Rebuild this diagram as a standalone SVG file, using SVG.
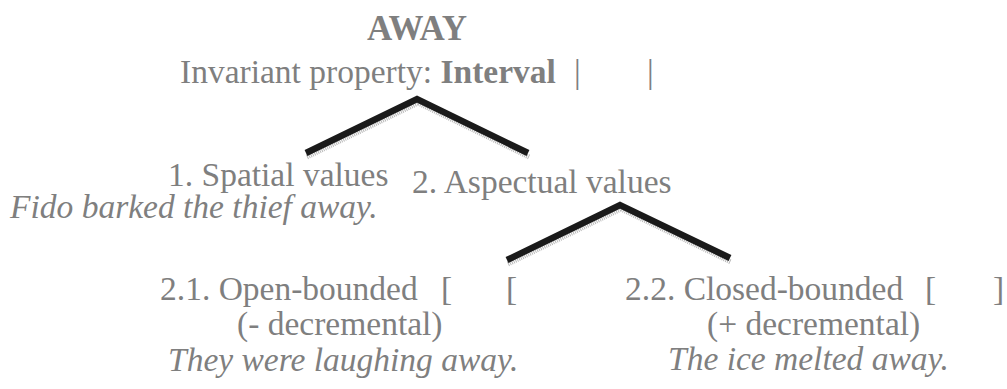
<svg xmlns="http://www.w3.org/2000/svg" width="1007" height="389" viewBox="0 0 1007 389">
<style>
text{font-family:"Liberation Serif","Times New Roman",serif;fill:#7f7f7f;font-size:33.5px}
.b{font-weight:bold}
.i{font-style:italic}
.t{font-size:35px;font-weight:bold}
.edge{fill:none;stroke:#1a1a1a;stroke-width:6.5;stroke-linejoin:miter}
.shadow{fill:none;stroke:#b8b8b8;stroke-width:5;stroke-dasharray:1 1}
</style>
<rect width="1007" height="389" fill="#fff"/>
<g id="root">
<text class="t" x="417" y="40" text-anchor="middle">AWAY</text>
<text x="180" y="83">Invariant property: <tspan class="b">Interval</tspan></text>
<text x="574" y="83">|</text>
<text x="647" y="83">|</text>
</g>
<g id="connectors">
<polyline class="shadow" points="307,157 418,103 529,157"/>
<polyline class="edge" points="306,153 417,99 528,153"/>
<polyline class="shadow" points="508,264 621,209 731,262"/>
<polyline class="edge" points="507,260 620,205 730,258"/>
</g>
<g id="spatial">
<text x="168" y="186">1. Spatial values</text>
<text class="i" x="10" y="218">Fido barked the thief away.</text>
</g>
<g id="aspectual">
<text x="412" y="193">2. Aspectual values</text>
</g>
<g id="open">
<text x="160" y="300">2.1. Open-bounded</text>
<text x="441" y="300">[</text>
<text x="506" y="300">[</text>
<text x="237" y="335">(- decremental)</text>
<text class="i" x="168" y="371">They were laughing away.</text>
</g>
<g id="closed">
<text x="625" y="300">2.2. Closed-bounded</text>
<text x="925" y="300">[</text>
<text x="993" y="300">]</text>
<text x="707" y="335">(+ decremental)</text>
<text class="i" x="668" y="370">The ice melted away.</text>
</g>
</svg>
